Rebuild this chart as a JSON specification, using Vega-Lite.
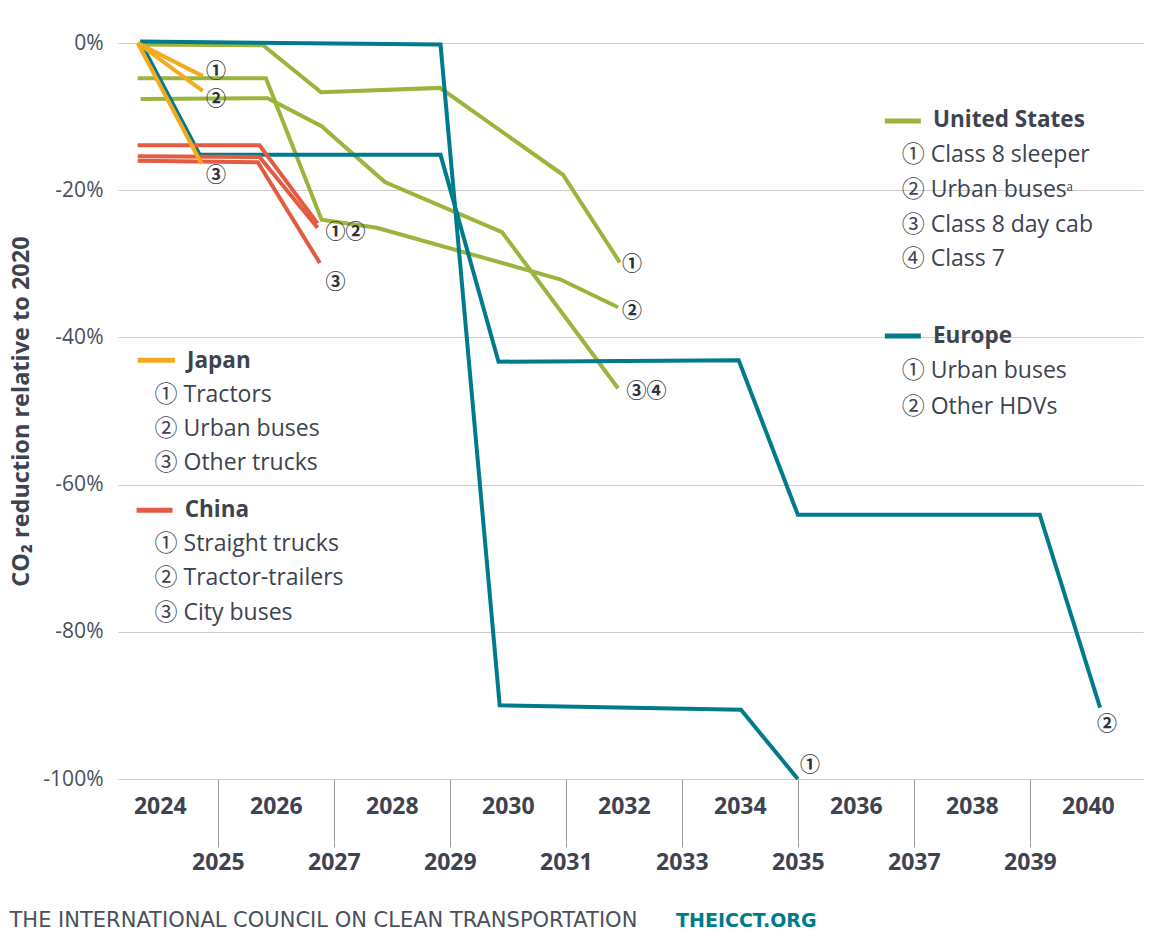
{
  "$schema": "https://vega.github.io/schema/vega-lite/v6.json",
  "width": 1025,
  "height": 736,
  "autosize": {"type": "none"},
  "padding": {"left": 118, "top": 43, "right": 13, "bottom": 161},
  "background": "white",
  "config": {"view": {"stroke": null}, "font": "Open Sans, Noto Sans CJK JP"},
  "datasets": {
    "lines": [
      {"country": "United States", "series": "US1", "year": 2023.62, "value": -0.2},
      {"country": "United States", "series": "US1", "year": 2025.78, "value": -0.3},
      {"country": "United States", "series": "US1", "year": 2026.78, "value": -6.7},
      {"country": "United States", "series": "US1", "year": 2028.83, "value": -6.1},
      {"country": "United States", "series": "US1", "year": 2030.95, "value": -17.9},
      {"country": "United States", "series": "US1", "year": 2031.93, "value": -29.8},
      {"country": "United States", "series": "US2", "year": 2023.62, "value": -4.8},
      {"country": "United States", "series": "US2", "year": 2025.83, "value": -4.8},
      {"country": "United States", "series": "US2", "year": 2026.79, "value": -24.0},
      {"country": "United States", "series": "US2", "year": 2027.74, "value": -25.1},
      {"country": "United States", "series": "US2", "year": 2030.9, "value": -32.1},
      {"country": "United States", "series": "US2", "year": 2031.9, "value": -35.9},
      {"country": "United States", "series": "US3", "year": 2023.67, "value": -7.6},
      {"country": "United States", "series": "US3", "year": 2025.86, "value": -7.5},
      {"country": "United States", "series": "US3", "year": 2026.79, "value": -11.3},
      {"country": "United States", "series": "US3", "year": 2027.88, "value": -18.9},
      {"country": "United States", "series": "US3", "year": 2029.9, "value": -25.7},
      {"country": "United States", "series": "US3", "year": 2031.9, "value": -46.9},
      {"country": "Europe", "series": "EU1", "year": 2023.66, "value": 0.2},
      {"country": "Europe", "series": "EU1", "year": 2028.84, "value": -0.2},
      {"country": "Europe", "series": "EU1", "year": 2029.86, "value": -90.0},
      {"country": "Europe", "series": "EU1", "year": 2034.02, "value": -90.6},
      {"country": "Europe", "series": "EU1", "year": 2035.0, "value": -100},
      {"country": "Europe", "series": "EU2", "year": 2023.66, "value": 0.2},
      {"country": "Europe", "series": "EU2", "year": 2024.69, "value": -15.2},
      {"country": "Europe", "series": "EU2", "year": 2028.84, "value": -15.2},
      {"country": "Europe", "series": "EU2", "year": 2029.84, "value": -43.3},
      {"country": "Europe", "series": "EU2", "year": 2033.98, "value": -43.1},
      {"country": "Europe", "series": "EU2", "year": 2035.0, "value": -64.1},
      {"country": "Europe", "series": "EU2", "year": 2039.17, "value": -64.1},
      {"country": "Europe", "series": "EU2", "year": 2040.21, "value": -90.3},
      {"country": "China", "series": "CN1", "year": 2023.62, "value": -13.9},
      {"country": "China", "series": "CN1", "year": 2025.72, "value": -13.9},
      {"country": "China", "series": "CN1", "year": 2026.72, "value": -24.5},
      {"country": "China", "series": "CN2", "year": 2023.62, "value": -15.4},
      {"country": "China", "series": "CN2", "year": 2025.72, "value": -15.5},
      {"country": "China", "series": "CN2", "year": 2026.72, "value": -25.1},
      {"country": "China", "series": "CN3", "year": 2023.62, "value": -16.0},
      {"country": "China", "series": "CN3", "year": 2025.69, "value": -16.2},
      {"country": "China", "series": "CN3", "year": 2026.76, "value": -29.9},
      {"country": "Japan", "series": "JP1", "year": 2023.62, "value": 0},
      {"country": "Japan", "series": "JP1", "year": 2024.74, "value": -4.5},
      {"country": "Japan", "series": "JP2", "year": 2023.62, "value": 0},
      {"country": "Japan", "series": "JP2", "year": 2024.74, "value": -6.5},
      {"country": "Japan", "series": "JP3", "year": 2023.62, "value": 0},
      {"country": "Japan", "series": "JP3", "year": 2024.72, "value": -16.4}
    ],
    "marks": [
      {"year": 2024.97, "value": -4.0, "text": "①"},
      {"year": 2024.97, "value": -7.8, "text": "②"},
      {"year": 2024.97, "value": -18.1, "text": "③"},
      {"year": 2027.2, "value": -25.8, "text": "①②"},
      {"year": 2027.03, "value": -32.6, "text": "③"},
      {"year": 2032.14, "value": -30.2, "text": "①"},
      {"year": 2032.14, "value": -36.5, "text": "②"},
      {"year": 2032.39, "value": -47.4, "text": "③④"},
      {"year": 2035.21, "value": -98.2, "text": "①"},
      {"year": 2040.33, "value": -92.7, "text": "②"}
    ],
    "swatches": [
      {"country": "Japan", "x": 2023.62, "x2": 2024.26, "y": -43.1},
      {"country": "China", "x": 2023.6, "x2": 2024.22, "y": -63.5},
      {"country": "United States", "x": 2036.5, "x2": 2037.12, "y": -10.6},
      {"country": "Europe", "x": 2036.5, "x2": 2037.12, "y": -39.8}
    ],
    "legend": [
      {"kind": "head", "x": 2024.47, "y": -43.2, "text": "Japan"},
      {"kind": "item", "x": 2023.91, "y": -47.8, "text": "① Tractors"},
      {"kind": "item", "x": 2023.91, "y": -52.4, "text": "② Urban buses"},
      {"kind": "item", "x": 2023.91, "y": -57.1, "text": "③ Other trucks"},
      {"kind": "head", "x": 2024.43, "y": -63.5, "text": "China"},
      {"kind": "item", "x": 2023.91, "y": -68.1, "text": "① Straight trucks"},
      {"kind": "item", "x": 2023.91, "y": -72.7, "text": "② Tractor-trailers"},
      {"kind": "item", "x": 2023.91, "y": -77.4, "text": "③ City buses"},
      {"kind": "head", "x": 2037.33, "y": -10.5, "text": "United States"},
      {"kind": "item", "x": 2036.79, "y": -15.2, "text": "① Class 8 sleeper"},
      {"kind": "item", "x": 2036.79, "y": -20.0, "text": "② Urban busesᵃ"},
      {"kind": "item", "x": 2036.79, "y": -24.7, "text": "③ Class 8 day cab"},
      {"kind": "item", "x": 2036.79, "y": -29.3, "text": "④ Class 7"},
      {"kind": "head", "x": 2037.33, "y": -39.8, "text": "Europe"},
      {"kind": "item", "x": 2036.79, "y": -44.6, "text": "① Urban buses"},
      {"kind": "item", "x": 2036.79, "y": -49.5, "text": "② Other HDVs"}
    ],
    "footer": [
      {"kind": "org", "x": 2021.41, "y": -119.3, "text": "THE INTERNATIONAL COUNCIL ON CLEAN TRANSPORTATION"},
      {"kind": "url", "x": 2032.9, "y": -119.3, "text": "THEICCT.ORG"}
    ]
  },
  "layer": [
    {
      "data": {"name": "lines"},
      "transform": [{"filter": "datum.country == 'United States'"}],
      "mark": {"type": "line", "strokeWidth": 4, "clip": false},
      "encoding": {
        "x": {
          "field": "year", "type": "quantitative",
          "scale": {"domain": [2023.28, 2040.95], "nice": false, "zero": false},
          "axis": {
            "values": [2024, 2025, 2026, 2027, 2028, 2029, 2030, 2031, 2032, 2033, 2034, 2035, 2036, 2037, 2038, 2039, 2040],
            "format": "d", "title": null, "grid": false, "domain": false,
            "ticks": true, "tickSize": 68, "tickWidth": 1,
            "tickColor": {"condition": {"test": "datum.value % 2 == 1", "value": "#9c9c9c"}, "value": "transparent"},
            "labelFont": "Open Sans",
            "labelFontSize": 23, "labelFontWeight": "bold", "labelColor": "#3d4350",
            "labelBaseline": "middle", "labelOverlap": false, "labelFlush": false, "labelBound": false,
            "labelPadding": {"condition": {"test": "datum.value % 2 == 1", "value": 15}, "value": -41}
          }
        },
        "y": {
          "field": "value", "type": "quantitative",
          "scale": {"domain": [-100, 0], "nice": false, "zero": false},
          "axis": {
            "values": [0, -20, -40, -60, -80, -100],
            "labelExpr": "datum.value + '%'",
            "grid": true, "gridColor": "#cccccc", "gridWidth": 1,
            "domain": false, "ticks": false,
            "labelFont": "Open Sans",
            "labelFontSize": 21, "labelColor": "#4a505c", "labelPadding": 15,
            "title": "CO₂ reduction relative to 2020",
            "titleFont": "Open Sans",
            "titleFontSize": 23.5, "titleFontWeight": "bold", "titleColor": "#3d4350", "titlePadding": 9
          }
        },
        "detail": {"field": "series"},
        "color": {
          "field": "country", "type": "nominal",
          "scale": {"domain": ["Japan", "China", "United States", "Europe"], "range": ["#f4aa1d", "#e35b41", "#9bb43c", "#007b8b"]},
          "legend": null
        }
      }
    },
    {
      "data": {"name": "lines"},
      "transform": [{"filter": "datum.country == 'Europe'"}],
      "mark": {"type": "line", "strokeWidth": 4, "clip": false},
      "encoding": {
        "x": {"field": "year", "type": "quantitative"},
        "y": {"field": "value", "type": "quantitative"},
        "detail": {"field": "series"},
        "color": {"field": "country", "type": "nominal", "legend": null}
      }
    },
    {
      "data": {"name": "lines"},
      "transform": [{"filter": "datum.country == 'China'"}],
      "mark": {"type": "line", "strokeWidth": 4, "clip": false},
      "encoding": {
        "x": {"field": "year", "type": "quantitative"},
        "y": {"field": "value", "type": "quantitative"},
        "detail": {"field": "series"},
        "color": {"field": "country", "type": "nominal", "legend": null}
      }
    },
    {
      "data": {"name": "lines"},
      "transform": [{"filter": "datum.country == 'Japan'"}],
      "mark": {"type": "line", "strokeWidth": 4, "clip": false},
      "encoding": {
        "x": {"field": "year", "type": "quantitative"},
        "y": {"field": "value", "type": "quantitative"},
        "detail": {"field": "series"},
        "color": {"field": "country", "type": "nominal", "legend": null}
      }
    },
    {
      "data": {"name": "marks"},
      "mark": {"type": "text", "align": "center", "baseline": "middle", "fontSize": 20, "fontWeight": "bold", "color": "#2d3340", "font": "Noto Sans CJK JP"},
      "encoding": {
        "x": {"field": "year", "type": "quantitative"},
        "y": {"field": "value", "type": "quantitative"},
        "text": {"field": "text"}
      }
    },
    {
      "data": {"name": "swatches"},
      "mark": {"type": "rule", "strokeWidth": 5},
      "encoding": {
        "x": {"field": "x", "type": "quantitative"},
        "x2": {"field": "x2"},
        "y": {"field": "y", "type": "quantitative"},
        "color": {"field": "country", "type": "nominal", "legend": null}
      }
    },
    {
      "data": {"name": "legend"},
      "transform": [{"filter": "datum.kind == 'head'"}],
      "mark": {"type": "text", "align": "left", "baseline": "middle", "fontSize": 22.5, "fontWeight": "bold", "color": "#3d4350"},
      "encoding": {
        "x": {"field": "x", "type": "quantitative"},
        "y": {"field": "y", "type": "quantitative"},
        "text": {"field": "text"}
      }
    },
    {
      "data": {"name": "legend"},
      "transform": [{"filter": "datum.kind == 'item'"}],
      "mark": {"type": "text", "align": "left", "baseline": "middle", "fontSize": 23, "color": "#3d4350"},
      "encoding": {
        "x": {"field": "x", "type": "quantitative"},
        "y": {"field": "y", "type": "quantitative"},
        "text": {"field": "text"}
      }
    },
    {
      "data": {"name": "footer"},
      "transform": [{"filter": "datum.kind == 'org'"}],
      "mark": {"type": "text", "align": "left", "baseline": "middle", "fontSize": 21, "color": "#4a505c", "font": "DejaVu Sans"},
      "encoding": {
        "x": {"field": "x", "type": "quantitative"},
        "y": {"field": "y", "type": "quantitative"},
        "text": {"field": "text"}
      }
    },
    {
      "data": {"name": "footer"},
      "transform": [{"filter": "datum.kind == 'url'"}],
      "mark": {"type": "text", "align": "left", "baseline": "middle", "fontSize": 19, "fontWeight": "bold", "color": "#007b8b", "font": "DejaVu Sans"},
      "encoding": {
        "x": {"field": "x", "type": "quantitative"},
        "y": {"field": "y", "type": "quantitative"},
        "text": {"field": "text"}
      }
    }
  ]
}
